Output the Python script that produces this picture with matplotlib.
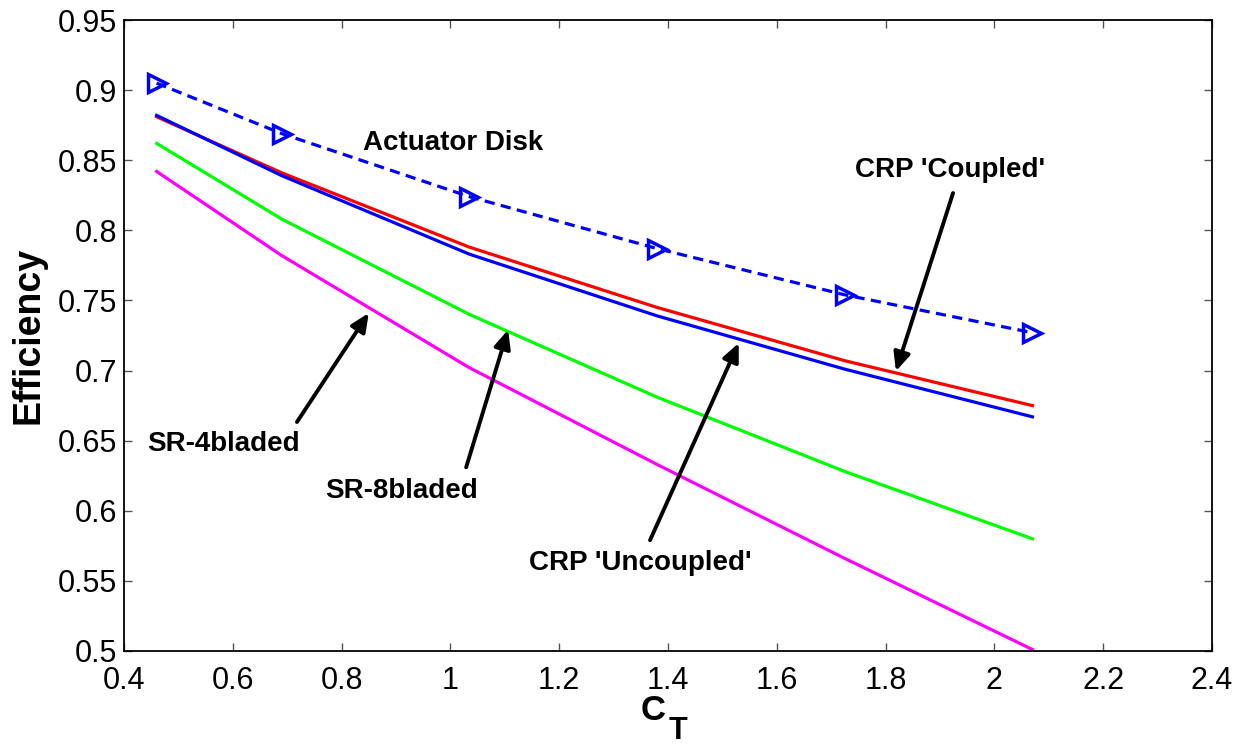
import matplotlib
matplotlib.use("Agg")
import matplotlib.pyplot as plt
import numpy as np

plt.rcParams["font.family"] = ["Liberation Sans", "DejaVu Sans"]

# Thrust coefficient values at which each curve was evaluated
ct = [0.46, 0.69, 1.035, 1.38, 1.725, 2.07]

# Efficiency curves
eff_actuator_disk = [0.905, 0.869, 0.824, 0.787, 0.754, 0.727]
eff_crp_coupled = [0.881, 0.841, 0.788, 0.745, 0.707, 0.675]
eff_crp_uncoupled = [0.882, 0.839, 0.783, 0.739, 0.701, 0.667]
eff_sr8 = [0.862, 0.808, 0.740, 0.681, 0.628, 0.580]
eff_sr4 = [0.842, 0.782, 0.702, 0.633, 0.566, 0.501]

xticks = [0.4, 0.6, 0.8, 1.0, 1.2, 1.4, 1.6, 1.8, 2.0, 2.2, 2.4]
xtick_labels = ["0.4", "0.6", "0.8", "1", "1.2", "1.4", "1.6", "1.8", "2", "2.2", "2.4"]
yticks = [0.5, 0.55, 0.6, 0.65, 0.7, 0.75, 0.8, 0.85, 0.9, 0.95]
ytick_labels = ["0.5", "0.55", "0.6", "0.65", "0.7", "0.75", "0.8", "0.85", "0.9", "0.95"]

fig = plt.figure(figsize=(12.37, 7.44), dpi=100)
ax = fig.add_axes([0.1002, 0.125, 0.8796, 0.8481])

ax.plot(ct, eff_actuator_disk, color="#0000ff", lw=2.3, linestyle=(0, (3.2, 2.0)),
        marker=">", markersize=13, markerfacecolor="none", markeredgewidth=2.5)
ax.plot(ct, eff_crp_coupled, color="#ff0000", lw=2.3)
ax.plot(ct, eff_crp_uncoupled, color="#0000ff", lw=2.3)
ax.plot(ct, eff_sr8, color="#00ff00", lw=2.3)
ax.plot(ct, eff_sr4, color="#ff00ff", lw=2.3)

ax.set_xlim(0.4, 2.4)
ax.set_ylim(0.5, 0.95)
ax.set_xticks(xticks)
ax.set_xticklabels(xtick_labels)
ax.set_yticks(yticks)
ax.set_yticklabels(ytick_labels)
ax.tick_params(axis="both", direction="in", top=True, right=True, length=6,
               width=1.0, color="#555555", labelsize=22)
ax.tick_params(axis="x", pad=11)
ax.tick_params(axis="y", pad=5)
for sp in ax.spines.values():
    sp.set_linewidth(1.3)
    sp.set_color("black")

ax.set_ylabel("Efficiency", fontsize=27, fontweight="bold", labelpad=8)

# Axis label C_T with a full-size subscript
fig.text(653 / 1237, 1 - 711 / 744, "C", fontsize=25, fontweight="bold",
         ha="center", va="center")
fig.text(678 / 1237, 1 - 731 / 744, "T", fontsize=22, fontweight="bold",
         ha="center", va="center")

txt_kw = dict(fontsize=20, fontweight="bold", ha="center", va="center")
ax.text(1.005, 0.8623, "Actuator Disk", **txt_kw)
ax.text(1.918, 0.843, "CRP 'Coupled'", **txt_kw)
ax.text(0.582, 0.6476, "SR-4bladed", **txt_kw)
ax.text(0.911, 0.614, "SR-8bladed", **txt_kw)
ax.text(1.349, 0.5627, "CRP 'Uncoupled'", **txt_kw)

arrow_kw = dict(arrowstyle="-|>,head_length=1.1,head_width=0.5", color="black",
                lw=2.8, shrinkA=0, shrinkB=0)
arrows = [
    ((1.924, 0.8266), (1.819, 0.6996)),
    ((0.718, 0.6633), (0.850, 0.741)),
    ((1.029, 0.631), (1.106, 0.729)),
    ((1.367, 0.579), (1.530, 0.7196)),
]
for tail, tip in arrows:
    ax.annotate("", xy=tip, xytext=tail, arrowprops=arrow_kw)

fig.savefig("out.png", dpi=100)
